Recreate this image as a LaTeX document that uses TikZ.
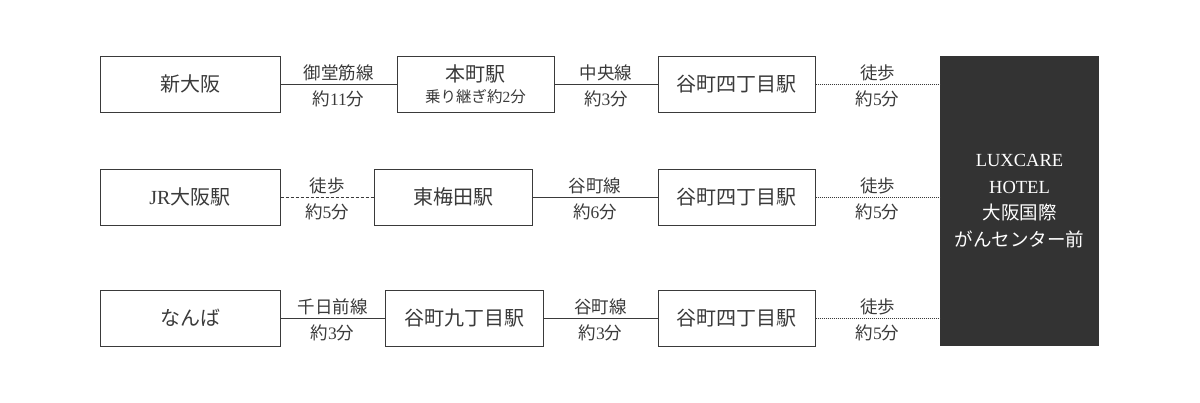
\documentclass[tikz,border=0pt]{standalone}
\usepackage{fontspec}
\setmainfont{Liberation Serif}
\newfontfamily\cjk{Noto Sans CJK JP}
\newcommand\dg[1]{{\rmfamily #1}}
\definecolor{txt}{HTML}{3A3A3A}
\definecolor{dark}{HTML}{333333}
\begin{document}
\begin{tikzpicture}[x=1pt,y=-1pt,
  stbox/.style={draw=txt,line width=1pt,minimum width=#1,minimum height=56pt,inner sep=0pt,font=\fontsize{20}{22}\selectfont\cjk,text=txt},
  stbox/.default=158pt,
  lab/.style={font=\fontsize{17.5}{19}\selectfont\cjk,text=txt,inner sep=0pt},
  conn/.style={draw=txt,line width=0.8pt},
  walk/.style={draw=txt,line width=0.8pt,dash pattern=on 1pt off 1pt},
  walkd/.style={draw=txt,line width=0.8pt,dash pattern=on 3pt off 2pt}]
\useasboundingbox (0,0) rectangle (1200,402);
% hotel
\node[fill=dark,minimum width=159pt,minimum height=290pt,inner sep=0pt] (hotel) at (1019.5,201) {};
\node[text=white,align=center,font=\fontsize{18.5}{26.5}\selectfont] (hoteltext) at (hotel.center)
 {LUXCARE\\HOTEL\\{\cjk 大阪国際}\\{\cjk がんセンター前}};
% row 1
\node[stbox=180pt] (a1) at (190,84) {新大阪};
\node[stbox=157pt] (b1) at (475.5,84) {};
\node[font=\fontsize{20}{22}\selectfont\cjk,text=txt,inner sep=0pt] (b1t) at (475.5,74) {本町駅};
\node[font=\fontsize{15.5}{17}\selectfont\cjk,text=txt,inner sep=0pt] (b1s) at (475.5,97) {乗り継ぎ約\dg{2}分};
\node[stbox=157pt] (c1) at (736.5,84) {谷町四丁目駅};
\draw[conn] (a1.east) -- (b1.west);
\draw[conn] (b1.east) -- (c1.west);
\draw[walk] (c1.east) -- (c1.east -| hotel.west);
\node[lab] (l1a) at (338.5,73) {御堂筋線};
\node[lab] (l1b) at (338.5,99) {約\dg{11}分};
\node[lab] (l1c) at (606,73) {中央線};
\node[lab] (l1d) at (606,99) {約\dg{3}分};
\node[lab] (l1e) at (877.5,73) {徒歩};
\node[lab] (l1f) at (877.5,99) {約\dg{5}分};
% row 2
\node[stbox=180pt] (a2) at (190,197) {\dg{JR}大阪駅};
\node[stbox=158pt] (b2) at (453,197) {東梅田駅};
\node[stbox=157pt] (c2) at (736.5,197) {谷町四丁目駅};
\draw[walkd] (a2.east) -- (b2.west);
\draw[conn] (b2.east) -- (c2.west);
\draw[walk] (c2.east) -- (c2.east -| hotel.west);
\node[lab] (l2a) at (327,186) {徒歩};
\node[lab] (l2b) at (327,212) {約\dg{5}分};
\node[lab] (l2c) at (595,186) {谷町線};
\node[lab] (l2d) at (595,212) {約\dg{6}分};
\node[lab] (l2e) at (877.5,186) {徒歩};
\node[lab] (l2f) at (877.5,212) {約\dg{5}分};
% row 3
\node[stbox=180pt] (a3) at (190,318) {なんば};
\node[stbox=158pt] (b3) at (464,318) {谷町九丁目駅};
\node[stbox=157pt] (c3) at (736.5,318) {谷町四丁目駅};
\draw[conn] (a3.east) -- (b3.west);
\draw[conn] (b3.east) -- (c3.west);
\draw[walk] (c3.east) -- (c3.east -| hotel.west);
\node[lab] (l3a) at (332.5,307) {千日前線};
\node[lab] (l3b) at (332.5,333) {約\dg{3}分};
\node[lab] (l3c) at (600.5,307) {谷町線};
\node[lab] (l3d) at (600.5,333) {約\dg{3}分};
\node[lab] (l3e) at (877.5,307) {徒歩};
\node[lab] (l3f) at (877.5,333) {約\dg{5}分};
\end{tikzpicture}
\end{document}
